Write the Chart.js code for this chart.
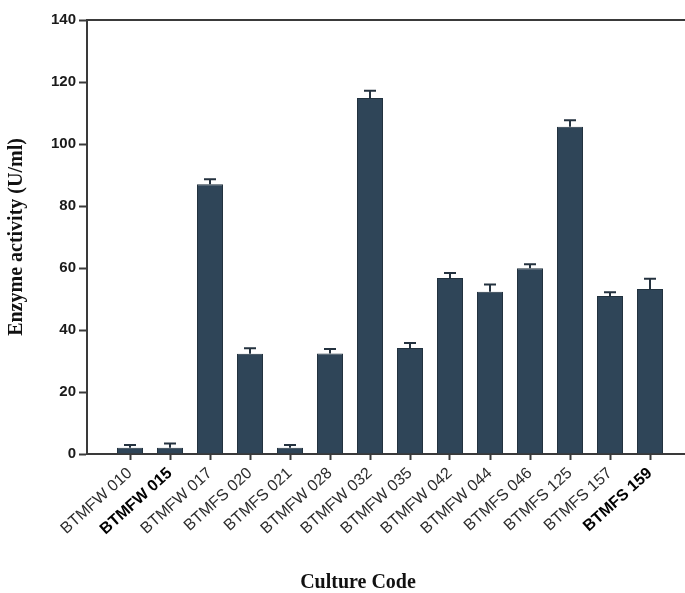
<!DOCTYPE html>
<html>
<head>
<meta charset="utf-8">
<script src="https://cdn.jsdelivr.net/npm/chart.js@4/dist/chart.umd.min.js"></script>
<style>
  html, body { margin: 0; padding: 0; background: #ffffff; }
  #wrap { width: 685px; height: 593px; overflow: hidden; position: relative; }
  canvas { display: block; }
</style>
</head>
<body>
<div id="wrap"><canvas id="chart" width="709" height="593"></canvas></div>
<script>
// Culture codes screened for enzyme production
const categories = ['BTMFW 010', 'BTMFW 015', 'BTMFW 017', 'BTMFS 020', 'BTMFS 021',
  'BTMFW 028', 'BTMFW 032', 'BTMFW 035', 'BTMFW 042', 'BTMFW 044',
  'BTMFS 046', 'BTMFS 125', 'BTMFS 157', 'BTMFS 159'];

// Mean enzyme activity (U/ml) and its error (upper bar only)
const activity = [2.0, 2.0, 87.0, 32.3, 2.0, 32.4, 114.8, 34.2, 56.8, 52.3, 59.9, 105.6, 51.0, 53.2];
const errors   = [0.9, 1.4, 1.6, 1.8, 0.9, 1.5, 2.4, 1.6, 1.6, 2.4, 1.3, 2.1, 1.2, 3.3];

// Y axis ticks
const yTicks = [0, 20, 40, 60, 80, 100, 120, 140];

// Codes printed in heavier type on the axis
const boldCodes = ['BTMFW 015', 'BTMFS 159'];

const barColor = '#2f4558';
const axisColor = '#3a3a3a';
const xMin = -1.075, xMax = 14.475;

const points = categories.map((c, i) => ({ x: i, y: activity[i] }));

// Upward error bars with caps, placed through the chart scales
const errorBars = {
  id: 'errorBars',
  afterDatasetsDraw(chart) {
    const { ctx, scales: { x, y } } = chart;
    ctx.save();
    ctx.strokeStyle = '#24323f';
    ctx.lineWidth = 2;
    activity.forEach((v, i) => {
      const px = x.getPixelForValue(i);
      const yBar = y.getPixelForValue(v);
      const yTop = y.getPixelForValue(v + errors[i]);
      ctx.beginPath();
      ctx.moveTo(px, yBar);
      ctx.lineTo(px, yTop);
      ctx.moveTo(px - 6, yTop);
      ctx.lineTo(px + 6, yTop);
      ctx.stroke();
    });
    ctx.restore();
  }
};

new Chart(document.getElementById('chart'), {
  type: 'bar',
  data: {
    datasets: [{
      data: points,
      backgroundColor: barColor,
      borderColor: '#22323f',
      borderWidth: 1,
      barPercentage: 0.65,
      categoryPercentage: 1.0
    }]
  },
  plugins: [errorBars],
  options: {
    responsive: false,
    animation: false,
    events: [],
    layout: { padding: { left: 7, right: 0, top: 20, bottom: 0 } },
    plugins: {
      legend: { display: false },
      tooltip: { enabled: false },
      title: {
        display: true,
        position: 'bottom',
        text: 'Culture Code',
        color: '#111111',
        font: { family: '"Liberation Serif", "Times New Roman", serif', size: 20, weight: 'bold', lineHeight: 1 },
        padding: { top: 0, bottom: 0 }
      }
    },
    scales: {
      x: {
        type: 'linear',
        position: 'bottom',
        offset: false,
        min: xMin,
        max: xMax,
        afterBuildTicks(scale) {
          scale.ticks = categories.map((c, i) => ({ value: i }));
        },
        afterFit(scale) { scale.height = 119; },
        ticks: {
          autoSkip: false,
          minRotation: 42,
          maxRotation: 42,
          padding: 4,
          callback: (value) => categories[value],
          color: (ctx) => boldCodes.includes(categories[ctx.index]) ? '#000000' : '#2e2e2e',
          font: (ctx) => ({
            family: '"Liberation Sans", Arial, sans-serif',
            size: 16,
            weight: boldCodes.includes(categories[ctx.index]) ? 'bold' : 'normal'
          })
        },
        grid: {
          offset: false,
          drawOnChartArea: false,
          drawTicks: true,
          tickLength: 6,
          tickColor: axisColor,
          tickWidth: 2
        },
        border: { display: true, color: axisColor, width: 2 }
      },
      xTop: {
        type: 'linear',
        position: 'top',
        offset: false,
        min: xMin,
        max: xMax,
        afterFit(scale) { scale.height = 0; },
        ticks: { display: false },
        grid: { display: false, drawTicks: false, offset: false },
        border: { display: true, color: axisColor, width: 2 }
      },
      y: {
        min: 0,
        max: 140,
        afterBuildTicks(scale) {
          scale.ticks = yTicks.map(v => ({ value: v }));
        },
        afterFit(scale) { scale.width = 80; },
        ticks: {
          padding: 3,
          color: '#1a1a1a',
          font: { family: '"Liberation Sans", Arial, sans-serif', size: 15, weight: 'bold' }
        },
        grid: {
          drawOnChartArea: false,
          drawTicks: true,
          tickLength: 8,
          tickColor: axisColor,
          tickWidth: 2
        },
        border: { display: true, color: axisColor, width: 2 },
        title: {
          display: true,
          text: 'Enzyme activity (U/ml)',
          color: '#111111',
          font: { family: '"Liberation Serif", "Times New Roman", serif', size: 20, weight: 'bold', lineHeight: 1 },
          padding: { top: 0, bottom: 0 }
        }
      }
    }
  }
});
</script>
</body>
</html>
